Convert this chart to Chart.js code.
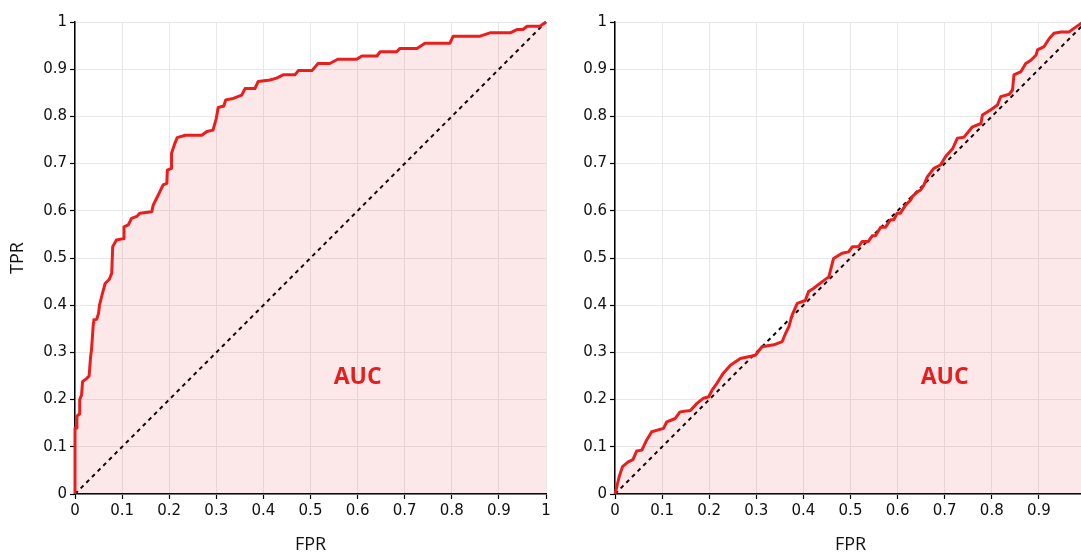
<!DOCTYPE html>
<html>
<head>
<meta charset="utf-8">
<script src="https://cdn.jsdelivr.net/npm/chart.js@4"></script>
<style>
  html, body { margin: 0; padding: 0; background: #fff; overflow: hidden; }
  body { width: 1081px; height: 554px; position: relative; }
  .box { position: absolute; top: 0; width: 570px; height: 554px; }
  #boxLeft { left: 0; }
  #boxRight { left: 540px; }
</style>
</head>
<body>
<div class="box" id="boxLeft"><canvas id="rocLeft" width="570" height="554"></canvas></div>
<div class="box" id="boxRight"><canvas id="rocRight" width="570" height="554"></canvas></div>
<script>
// ROC curve of the left panel (FPR, TPR)
const fprLeft = [0, 0, 0.004, 0.004, 0.01, 0.01, 0.014, 0.016, 0.025, 0.03, 0.033, 0.035, 0.039, 0.04, 0.046, 0.05, 0.052, 0.057, 0.064, 0.073,
  0.078, 0.08, 0.088, 0.103, 0.104, 0.113, 0.12, 0.131, 0.138, 0.163, 0.166, 0.173, 0.18, 0.187, 0.195, 0.196, 0.205, 0.205, 0.212, 0.217,
  0.234, 0.269, 0.28, 0.293, 0.3, 0.304, 0.316, 0.32, 0.336, 0.354, 0.361, 0.382, 0.389, 0.414, 0.428, 0.442, 0.467, 0.474, 0.503, 0.516,
  0.541, 0.558, 0.598, 0.609, 0.641, 0.648, 0.683, 0.69, 0.726, 0.743, 0.796, 0.803, 0.86, 0.881, 0.924, 0.938, 0.951, 0.96, 0.987, 1];
const tprLeft = [0, 0.14, 0.14, 0.165, 0.17, 0.2, 0.21, 0.238, 0.245, 0.25, 0.29, 0.305, 0.362, 0.369, 0.37, 0.383, 0.4, 0.42, 0.446, 0.455,
  0.468, 0.524, 0.538, 0.541, 0.566, 0.57, 0.584, 0.588, 0.595, 0.598, 0.612, 0.626, 0.64, 0.655, 0.658, 0.686, 0.69, 0.722, 0.743, 0.755,
  0.76, 0.76, 0.768, 0.771, 0.796, 0.819, 0.822, 0.835, 0.838, 0.845, 0.859, 0.859, 0.874, 0.877, 0.881, 0.888, 0.888, 0.897, 0.897, 0.912,
  0.912, 0.921, 0.921, 0.928, 0.928, 0.937, 0.937, 0.944, 0.944, 0.955, 0.955, 0.97, 0.97, 0.977, 0.977, 0.984, 0.984, 0.991, 0.991, 1];

// ROC curve of the right panel (FPR, TPR)
const fprRight = [0, 0.002, 0.009, 0.016, 0.028, 0.038, 0.046, 0.057, 0.067, 0.078, 0.103, 0.11, 0.128, 0.138, 0.16, 0.174, 0.188, 0.199, 0.206, 0.216,
  0.23, 0.245, 0.266, 0.298, 0.312, 0.337, 0.355, 0.362, 0.369, 0.376, 0.387, 0.404, 0.411, 0.422, 0.44, 0.454, 0.464, 0.482, 0.496, 0.504,
  0.517, 0.525, 0.538, 0.546, 0.553, 0.564, 0.574, 0.585, 0.592, 0.599, 0.606, 0.617, 0.628, 0.631, 0.642, 0.649, 0.656, 0.663, 0.677, 0.691,
  0.702, 0.717, 0.727, 0.741, 0.759, 0.777, 0.78, 0.798, 0.812, 0.819, 0.837, 0.844, 0.847, 0.862, 0.872, 0.883, 0.894, 0.897, 0.911, 0.922,
  0.932, 0.947, 0.964, 0.975, 0.991, 1];
const tprRight = [0, 0, 0.037, 0.058, 0.068, 0.073, 0.091, 0.093, 0.114, 0.132, 0.139, 0.153, 0.16, 0.174, 0.177, 0.192, 0.203, 0.206, 0.22, 0.234,
  0.256, 0.273, 0.287, 0.294, 0.312, 0.316, 0.323, 0.34, 0.354, 0.379, 0.404, 0.41, 0.429, 0.436, 0.45, 0.46, 0.499, 0.51, 0.513, 0.524,
  0.524, 0.535, 0.535, 0.547, 0.547, 0.565, 0.565, 0.581, 0.581, 0.595, 0.595, 0.612, 0.623, 0.63, 0.64, 0.644, 0.655, 0.672, 0.69, 0.697,
  0.715, 0.732, 0.754, 0.756, 0.778, 0.785, 0.803, 0.814, 0.824, 0.842, 0.847, 0.856, 0.888, 0.895, 0.912, 0.919, 0.93, 0.941, 0.948, 0.965,
  0.976, 0.979, 0.979, 0.987, 0.998, 1];

// chance line and axis ticks
const diagX = [0, 1];
const diagY = [0, 1];
const tickValues = [0, 0.1, 0.2, 0.3, 0.4, 0.5, 0.6, 0.7, 0.8, 0.9, 1];
const tickLabels = ['0', '0.1', '0.2', '0.3', '0.4', '0.5', '0.6', '0.7', '0.8', '0.9', '1'];
const aucText = 'AUC';

const toPoints = (xs, ys) => xs.map((x, i) => ({ x: x, y: ys[i] }));

// draws the "AUC" label at a data position
const aucLabelPlugin = {
  id: 'aucLabel',
  afterDatasetsDraw(chart, args, opts) {
    const ctx = chart.ctx;
    const px = chart.scales.x.getPixelForValue(opts.at[0]);
    const py = chart.scales.y.getPixelForValue(opts.at[1]);
    ctx.save();
    ctx.fillStyle = 'rgb(232,30,30)';
    ctx.font = 'bold 23px "Open Sans"';
    ctx.textAlign = 'center';
    ctx.textBaseline = 'middle';
    ctx.fillText(aucText, px, py);
    ctx.restore();
  }
};

function axis(titleText, showTitle) {
  return {
    type: 'linear',
    min: 0,
    max: 1,
    afterBuildTicks: (scale) => { scale.ticks = tickValues.map(v => ({ value: v })); },
    ticks: {
      color: '#111',
      font: { family: 'DejaVu Sans', size: 15 },
      padding: 3,
      maxRotation: 0,
      autoSkip: false,
      callback: (value, index) => tickLabels[index]
    },
    grid: {
      color: '#e8e8e8',
      lineWidth: 1,
      tickColor: '#000',
      tickLength: 5,
      tickWidth: 1.2
    },
    border: { color: '#000', width: 1.5 },
    title: {
      display: showTitle,
      text: titleText,
      color: '#111',
      font: { family: 'Open Sans', size: 18, lineHeight: 1 },
      padding: { top: 9, bottom: 0 }
    }
  };
}

function makeRoc(canvasId, fpr, tpr, showYTitle, aucAt) {
  const xAxis = axis('FPR', true);
  xAxis.afterFit = (scale) => { scale.height = 60; };
  const yAxis = axis('TPR', showYTitle);
  yAxis.afterFit = (scale) => { scale.width = 75; };

  return new Chart(document.getElementById(canvasId), {
    type: 'line',
    data: {
      datasets: [
        {
          data: toPoints(fpr, tpr),
          borderColor: 'rgb(234,30,28)',
          borderWidth: 3,
          backgroundColor: 'rgba(230,30,30,0.1)',
          fill: 'origin',
          pointRadius: 0,
          tension: 0,
          borderJoinStyle: 'round',
          clip: 6
        },
        {
          data: toPoints(diagX, diagY),
          borderColor: '#000',
          borderWidth: 2,
          borderDash: [4, 4],
          fill: false,
          pointRadius: 0,
          clip: 6
        }
      ]
    },
    options: {
      responsive: false,
      animation: false,
      layout: { padding: { top: 22, right: 24, left: 0, bottom: 0 } },
      scales: { x: xAxis, y: yAxis },
      plugins: {
        legend: { display: false },
        tooltip: { enabled: false },
        aucLabel: { at: aucAt }
      }
    },
    plugins: [aucLabelPlugin]
  });
}

makeRoc('rocLeft', fprLeft, tprLeft, true, [0.6, 0.246]);
makeRoc('rocRight', fprRight, tprRight, false, [0.7, 0.246]);
</script>
</body>
</html>
